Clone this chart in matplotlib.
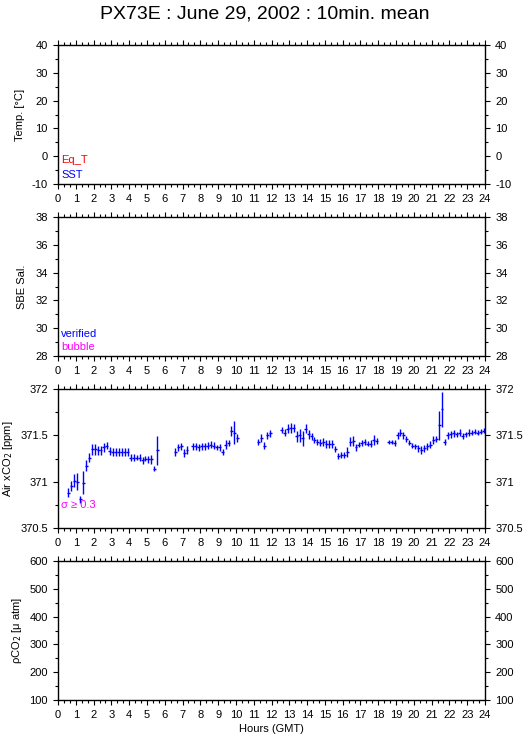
import matplotlib
matplotlib.use("Agg")
import matplotlib.pyplot as plt
import numpy as np
from matplotlib.ticker import MultipleLocator, FormatStrFormatter

plt.rcParams['font.family'] = ['Liberation Sans', 'DejaVu Sans']

# Air xCO2 10-min means, each run of data: first 10-min slot of the day, values, sigma
seg_start = [3, 39, 45, 67, 75, 111]
seg_xco2 = [
    [370.88, 370.95, 371.01, 371.00, 370.81, 370.99, 371.17, 371.26, 371.35, 371.35,
     371.34, 371.34, 371.37, 371.39, 371.33, 371.32, 371.32, 371.32, 371.32, 371.32,
     371.32, 371.26, 371.26, 371.26, 371.26, 371.23, 371.25, 371.24, 371.24, 371.14,
     371.34],
    [371.32, 371.37, 371.38, 371.31, 371.34],
    [371.38, 371.38, 371.37, 371.38, 371.38, 371.39, 371.40, 371.39, 371.37, 371.37,
     371.32, 371.40, 371.42, 371.55, 371.53, 371.47],
    [371.43, 371.47, 371.39, 371.50, 371.52],
    [371.56, 371.53, 371.57, 371.58, 371.58, 371.49, 371.50, 371.47, 371.57, 371.51,
     371.49, 371.45, 371.43, 371.42, 371.43, 371.41, 371.41, 371.41, 371.35, 371.28,
     371.29, 371.29, 371.32, 371.43, 371.44, 371.37, 371.40, 371.42, 371.43, 371.41,
     371.41, 371.45, 371.44],
    [371.43, 371.43, 371.42, 371.50, 371.53, 371.50, 371.46, 371.42, 371.39, 371.38,
     371.36, 371.34, 371.36, 371.38, 371.40, 371.45, 371.46, 371.61, 371.78, 371.43,
     371.50, 371.51, 371.52, 371.51, 371.53, 371.49, 371.51, 371.53, 371.53, 371.54,
     371.53, 371.54, 371.55],
]
seg_sigma = [
    [0.05, 0.055, 0.07, 0.09, 0.04, 0.127, 0.06, 0.045, 0.06, 0.06,
     0.05, 0.05, 0.05, 0.04, 0.04, 0.045, 0.04, 0.04, 0.04, 0.04,
     0.04, 0.035, 0.035, 0.03, 0.035, 0.035, 0.03, 0.035, 0.05, 0.03,
     0.155],
    [0.04, 0.035, 0.04, 0.04, 0.045],
    [0.035, 0.035, 0.035, 0.04, 0.035, 0.04, 0.035, 0.04, 0.03, 0.035,
     0.035, 0.045, 0.03, 0.055, 0.12, 0.04],
    [0.03, 0.045, 0.035, 0.04, 0.035],
    [0.035, 0.035, 0.05, 0.05, 0.045, 0.06, 0.07, 0.08, 0.05, 0.045,
     0.035, 0.03, 0.035, 0.04, 0.04, 0.045, 0.045, 0.045, 0.035, 0.03,
     0.03, 0.035, 0.05, 0.05, 0.05, 0.035, 0.03, 0.035, 0.035, 0.03,
     0.04, 0.05, 0.035],
    [0.025, 0.025, 0.03, 0.04, 0.035, 0.035, 0.03, 0.025, 0.03, 0.03,
     0.035, 0.04, 0.035, 0.04, 0.035, 0.045, 0.035, 0.155, 0.185, 0.03,
     0.035, 0.035, 0.035, 0.03, 0.035, 0.03, 0.03, 0.035, 0.03, 0.03,
     0.03, 0.03, 0.03],
]

panel_ylabels = ['Temp. [°C]', 'SBE Sal.', 'Air xCO$_2$ [ppm]', 'ρCO$_2$ [μ atm]']
panel_ylims = [(-10, 40), (28, 38), (370.5, 372), (100, 600)]
panel_major = [10, 2, 0.5, 100]
panel_minor = [5, 1, 0.25, 50]
panel_fmt = ['%d', '%d', '%g', '%d']
label_x = [-0.077, -0.073, -0.101, -0.080]   # right edge of the rotated label

W, H = 529, 739
fig = plt.figure(figsize=(W / 100, H / 100), dpi=100)
fig.text(0.5, 1 - 14 / H, 'PX73E : June 29, 2002 : 10min. mean',
         ha='center', va='center', fontsize=14)

tops = [45, 217, 389, 561]
ph = 139
axes = []
for i, top in enumerate(tops):
    ax = fig.add_axes([58 / W, 1 - (top + ph) / H, 427 / W, ph / H])
    ax.set_xlim(0, 24)
    ax.set_ylim(*panel_ylims[i])
    ax.xaxis.set_major_locator(MultipleLocator(1))
    ax.xaxis.set_minor_locator(MultipleLocator(1 / 3))
    ax.yaxis.set_major_locator(MultipleLocator(panel_major[i]))
    ax.yaxis.set_minor_locator(MultipleLocator(panel_minor[i]))
    ax.yaxis.set_major_formatter(FormatStrFormatter(panel_fmt[i]))
    ax.tick_params(which='both', direction='out', top=True, right=True,
                   labelright=True, labelsize=8, width=0.8, pad=3.5)
    ax.tick_params(which='major', length=3.8)
    ax.tick_params(which='minor', length=2)
    for s in ax.spines.values():
        s.set_linewidth(1.0)
    ax.set_ylabel(panel_ylabels[i], fontsize=8)
    ax.yaxis.set_label_coords(label_x[i], 0.5)
    axes.append(ax)

# air xCO2 10-min means with std bars
ax = axes[2]
for start, vals, sig in zip(seg_start, seg_xco2, seg_sigma):
    t = (start + np.arange(len(vals)) + 0.5) / 6.0
    ax.errorbar(t, vals, xerr=1 / 12, yerr=sig, fmt='none', ecolor='blue',
                elinewidth=1.0, capsize=0)

axes[0].text(0.008, 0.173, 'Eq_T', color='red', fontsize=8, transform=axes[0].transAxes, va='center')
axes[0].text(0.008, 0.068, 'SST', color='blue', fontsize=8, transform=axes[0].transAxes, va='center')
axes[1].text(0.008, 0.158, 'verified', color='blue', fontsize=8, transform=axes[1].transAxes, va='center')
axes[1].text(0.008, 0.068, 'bubble', color='magenta', fontsize=8, transform=axes[1].transAxes, va='center')
axes[2].text(0.008, 0.163, 'σ ≥ 0.3', color='magenta', fontsize=8, transform=axes[2].transAxes, va='center')

axes[3].set_xlabel('Hours (GMT)', fontsize=8, labelpad=3)

fig.savefig('out.png', dpi=100)
